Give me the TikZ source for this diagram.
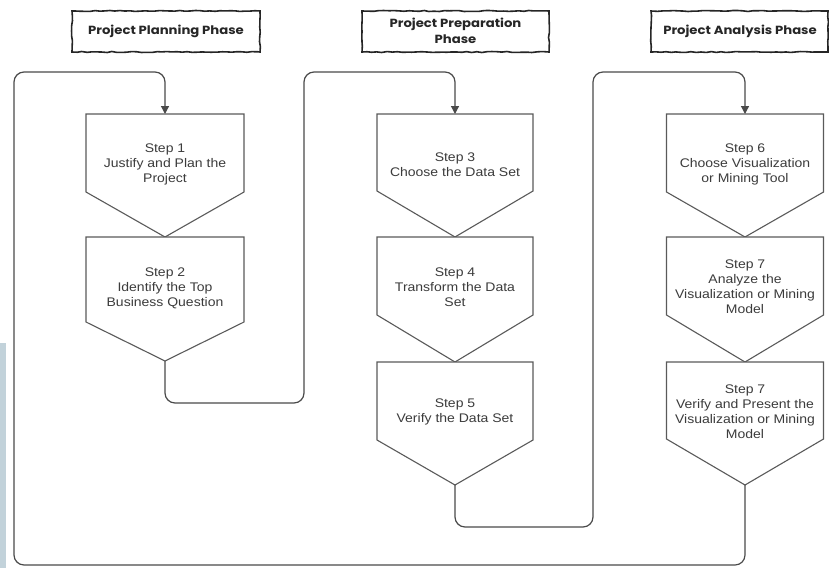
\documentclass[tikz,border=0pt]{standalone}
\usepackage{fontspec}
\setmainfont{Liberation Sans}
\newfontfamily\stepfont[FakeStretch=1.12]{Liberation Sans}
\newfontfamily\titlefont[FakeStretch=1.12]{Poppins}
\usetikzlibrary{arrows.meta,decorations.pathmorphing}
\definecolor{lineg}{HTML}{5A5A5A}
\definecolor{loopg}{HTML}{4A4A4A}
\definecolor{txtg}{HTML}{3C3C3C}
\definecolor{stripc}{HTML}{C2D2DA}
\tikzset{
  stepline/.style={draw=lineg, line width=1.1pt, fill=white, line join=miter},
  steptext/.style={align=center, text=txtg, font=\stepfont\fontsize{12.5}{15}\selectfont, inner sep=0pt},
  loopline/.style={draw=loopg, line width=1.2pt, rounded corners=10pt},
  arrowline/.style={loopline, -{Triangle[length=8pt,width=8pt]}},
  titlebox/.style={draw=black!85, line width=1.6pt, decorate,
    decoration={random steps, segment length=5pt, amplitude=0.5pt}},
  titletext/.style={align=center, text=black!85, font=\titlefont\bfseries\fontsize{11.8}{16}\selectfont, inner sep=0pt}
}
% #1 name, #2 cx, #3 top, #4 side bottom, #5 point, #6 half width, #7 text y, #8 text
\newcommand\mystep[8]{%
  \draw[stepline] (#2-#6,#3) -- (#2+#6,#3) -- (#2+#6,#4) -- (#2,#5) -- (#2-#6,#4) -- cycle;
  \coordinate (#1-in) at (#2,#3);
  \coordinate (#1-out) at (#2,#5);
  \node[steptext] (#1) at (#2,#7) {#8};
}
\begin{document}
\begin{tikzpicture}[x=1pt,y=-1pt]
\useasboundingbox (0,0) rectangle (829,568);
\fill[white] (0,0) rectangle (829,568);
\fill[stripc] (0,343) rectangle (6,568);

% title boxes
\draw[titlebox] (72,11) rectangle (260,52);
\node[titletext] (t1) at (166,31.5) {Project Planning Phase};
\draw[titlebox] (362,11) rectangle (549,52);
\node[titletext] (t2) at (455.5,30.5) {Project Preparation\\Phase};
\draw[titlebox] (651,11) rectangle (828,52);
\node[titletext] (t3) at (740,31.5) {Project Analysis Phase};

% corner coordinates for connectors
\coordinate (a1) at (14,565);
\coordinate (a2) at (14,72);
\coordinate (b1) at (304,403);
\coordinate (b2) at (304,72);
\coordinate (c1) at (593,527);
\coordinate (c2) at (593,72);

% column 1
\mystep{s1}{165}{114}{192}{237}{79}{164.5}{Step 1\\Justify and Plan the\\Project}
\mystep{s2}{165}{237}{322}{361}{79}{288}{Step 2\\Identify the Top\\Business Question}
% column 2
\mystep{s3}{455}{114}{191}{237}{78}{164.5}{Step 3\\Choose the Data Set}
\mystep{s4}{455}{237}{315}{362}{78}{287}{Step 4\\Transform the Data\\Set}
\mystep{s5}{455}{362}{440}{485}{78}{412}{Step 5\\Verify the Data Set}
% column 3
\mystep{s6}{745}{114}{192}{237}{78.5}{164.5}{Step 6\\Choose Visualization\\or Mining Tool}
\mystep{s7}{745}{237}{315}{362}{78.5}{287}{Step 7\\Analyze the\\Visualization or Mining\\Model}
\mystep{s8}{745}{362}{439}{485}{78.5}{412}{Step 7\\Verify and Present the\\Visualization or Mining\\Model}

% connectors
\draw[arrowline] (s8-out) |- (a1) -- (a2) -| (s1-in);
\draw[arrowline] (s2-out) |- (b1) -- (b2) -| (s3-in);
\draw[arrowline] (s5-out) |- (c1) -- (c2) -| (s6-in);
\end{tikzpicture}
\end{document}
